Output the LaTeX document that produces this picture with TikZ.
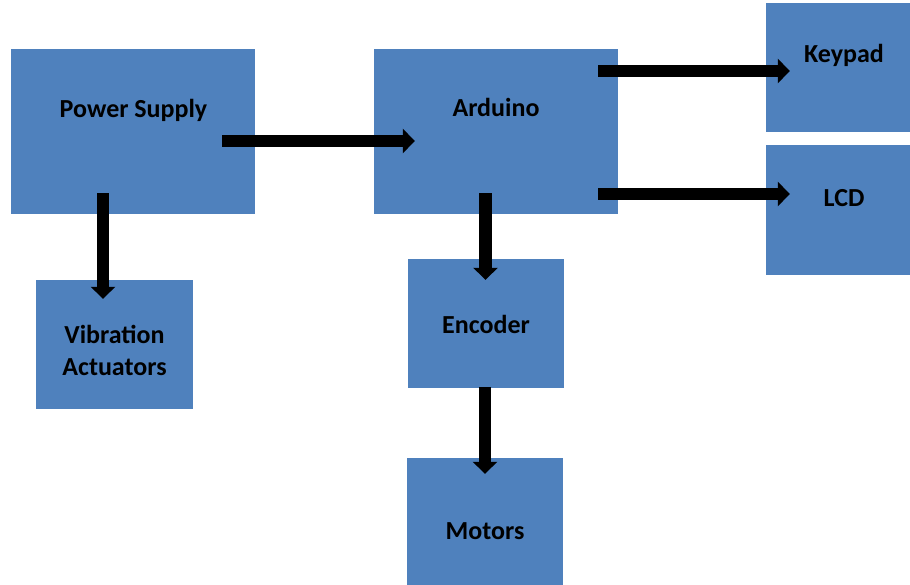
\documentclass[tikz,border=0pt]{standalone}
\usepackage{fontspec}
\setmainfont{Carlito}
\usetikzlibrary{arrows.meta,calc}
\definecolor{boxblue}{HTML}{4F81BD}
\tikzset{
  blk/.style={fill=boxblue, draw=none, inner sep=0pt, minimum width=#1},
  blk/.default=156pt,
  lbl/.style={anchor=base, inner sep=0pt, font=\fontsize{26}{32}\selectfont\bfseries, text=black},
  flow/.style={line width=12.5pt, -{Triangle[length=12pt,width=24pt]}, black}
}
\begin{document}
\begin{tikzpicture}[x=1pt,y=-1pt]
\useasboundingbox (0,0) rectangle (910,585);
% boxes
\node[blk=244pt, minimum height=165pt] (ps)  at (133,131.5) {};
\node[blk=244pt, minimum height=165pt] (ard) at (496,131.5) {};
\node[blk, minimum height=129pt] (key) at (844,67.5) {};
\node[blk, minimum height=130pt] (lcd) at (844,210) {};
\node[blk=157pt, minimum height=129pt] (vib) at (114.5,344.5) {};
\node[blk, minimum height=129pt] (enc) at (486,323.5) {};
\node[blk, minimum height=129pt] (mot) at (485,522.5) {};
% labels
\node[lbl] (pst)  at (133.5,118) {Power Supply};
\node[lbl] (ardt) at (496,117) {Arduino};
\node[lbl] (keyt) at (844,63) {Keypad};
\node[lbl] (lcdt) at (844,207) {LCD};
\node[lbl] (vibt1) at (114.5,343) {Vibration};
\node[lbl] (vibt2) at (114.5,375) {Actuators};
\node[lbl] (enct) at (486,334) {Encoder};
\node[lbl] (mott) at (485,539) {Motors};
% connectors
\draw[flow] ($(ps.east)+(-33,9.5)$) -- ($(ard.west)+(41,9.5)$);
\draw[flow] ($(ps.south)+(-30,-21)$) -- ($(vib.north)+(-11.5,19)$);
\draw[flow] ($(ard.south)+(-10.5,-21)$) -- ($(enc.north)+(-0.5,21)$);
\draw[flow] ($(enc.south)+(-1,-1)$) -- ($(mot.north)+(0,16)$);
\draw[flow] ($(ard.east)+(-20,-60.5)$) -- ($(key.west)+(24,3.5)$);
\draw[flow] ($(ard.east)+(-20,62.5)$) -- ($(lcd.west)+(24,-16)$);
\end{tikzpicture}
\end{document}
